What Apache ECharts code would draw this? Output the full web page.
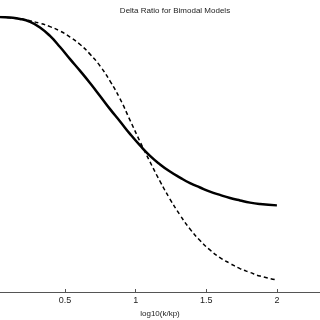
<!DOCTYPE html>
<html>
<head>
<meta charset="utf-8">
<script src="https://cdn.jsdelivr.net/npm/echarts@6/dist/echarts.min.js"></script>
<style>
  html, body { margin: 0; padding: 0; background: #fff; }
  #chart { width: 320px; height: 320px; }
</style>
</head>
<body>
<div id="chart"></div>
<script>
// values
const xs = [0.04, 0.111, 0.182, 0.253, 0.323, 0.394, 0.465, 0.536, 0.607, 0.677, 0.748, 0.819, 0.89, 0.96, 1.031, 1.102, 1.173, 1.243, 1.314, 1.385, 1.456, 1.526, 1.597, 1.668, 1.739, 1.81, 1.88, 2.0];
const solidY = [1.0, 0.998, 0.993, 0.982, 0.962, 0.931, 0.891, 0.847, 0.804, 0.76, 0.713, 0.665, 0.62, 0.575, 0.533, 0.495, 0.464, 0.438, 0.416, 0.396, 0.38, 0.365, 0.353, 0.342, 0.333, 0.325, 0.32, 0.315];
const dashY = [1.0, 0.997, 0.993, 0.986, 0.977, 0.965, 0.949, 0.927, 0.9, 0.865, 0.822, 0.767, 0.702, 0.625, 0.547, 0.473, 0.402, 0.338, 0.28, 0.229, 0.187, 0.153, 0.125, 0.104, 0.085, 0.071, 0.058, 0.044];
const xTicks = [0.5, 1, 1.5, 2];

function renderChart() {
  const chart = echarts.init(document.getElementById('chart'));
  const pair = (ys) => xs.map((x, i) => [x, ys[i]]);
  const option = {
    animation: false,
    title: {
      text: 'Delta Ratio for Bimodal Models',
      left: 170,
      top: 2,
      textAlign: 'center',
      textStyle: { fontFamily: 'Liberation Sans', fontSize: 8, fontWeight: 'normal', color: '#222' },
    },
    grid: {
      left: 0,
      right: 0,
      top: 17,
      bottom: 28,
      outerBoundsMode: 'none',
    },
    xAxis: {
      type: 'value',
      min: 0.04,
      max: 2.305,
      name: 'log10(k/kp)',
      nameLocation: 'middle',
      nameGap: 18,
      nameTextStyle: { fontFamily: 'Liberation Sans', fontSize: 8, color: '#222' },
      axisLine: { lineStyle: { color: '#555', width: 1 } },
      axisTick: { inside: true, length: 3, lineStyle: { color: '#555' }, customValues: xTicks },
      axisLabel: {
        margin: 4,
        fontFamily: 'Liberation Sans',
        fontSize: 9,
        color: '#222',
        customValues: xTicks,
      },
      splitLine: { show: false },
    },
    yAxis: {
      type: 'value',
      min: 0,
      max: 1,
      show: false,
    },
    series: [
      {
        name: 'solid',
        type: 'line',
        smooth: true,
        showSymbol: false,
        data: pair(solidY),
        lineStyle: { color: '#000', width: 2.5 },
      },
      {
        name: 'dashed',
        type: 'line',
        smooth: true,
        showSymbol: false,
        data: pair(dashY),
        lineStyle: { color: '#000', width: 1.5, type: [4, 3] },
      },
    ],
  };
  chart.setOption(option, true);
}
renderChart();
</script>
</body>
</html>
